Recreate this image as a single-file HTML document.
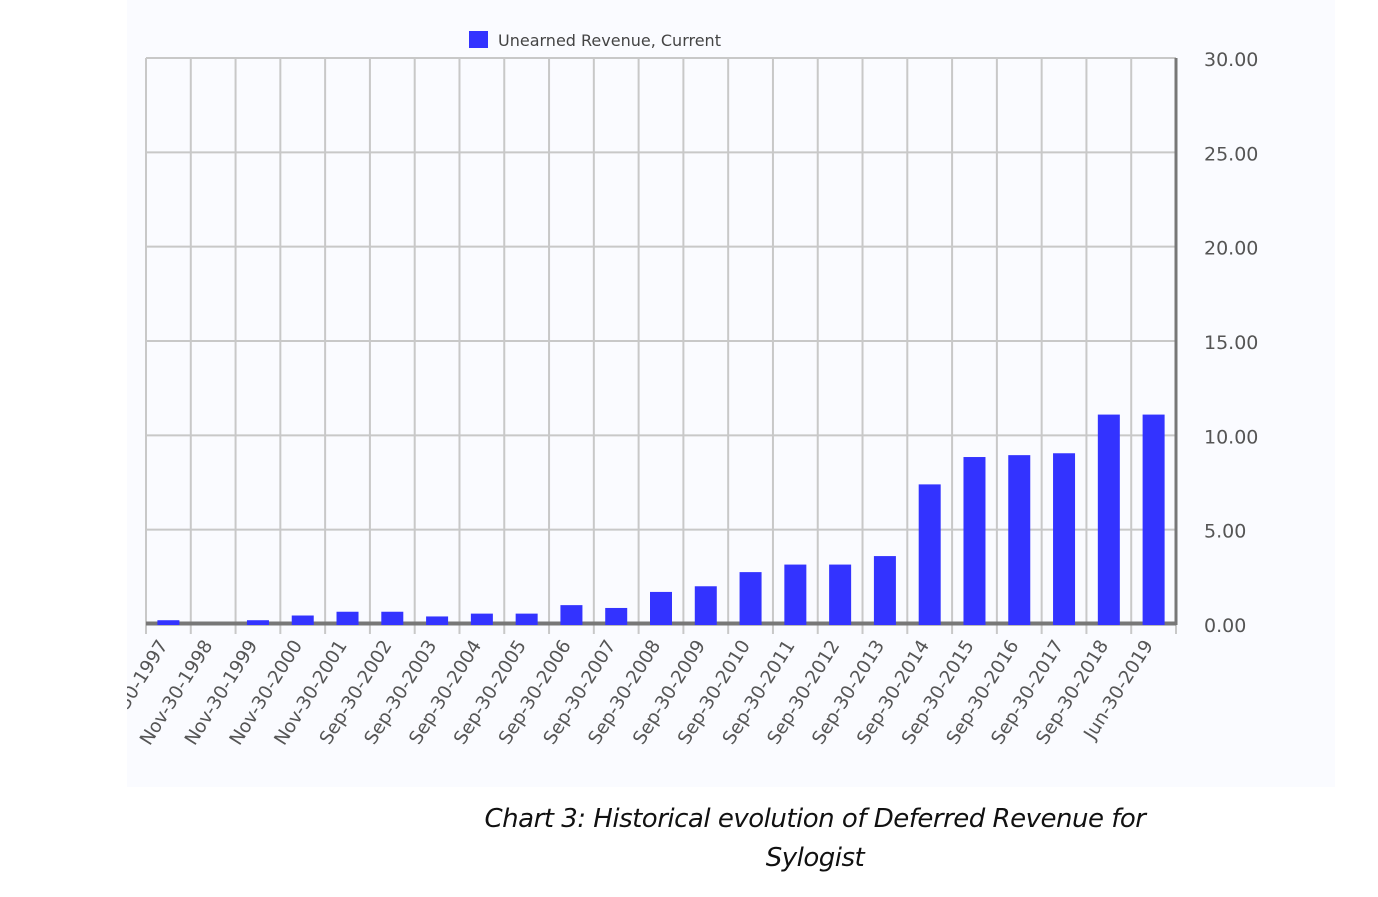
<!DOCTYPE html>
<html><head><meta charset="utf-8">
<style>
body{margin:0;background:#fff;width:1378px;height:897px;overflow:hidden;font-family:"DejaVu Sans","Liberation Sans",sans-serif}
#panel{position:absolute;left:127px;top:0;width:1208px;height:787px;background:#fafbff}
#cap{position:absolute;left:440px;top:800px;width:750px;text-align:center;font-family:"DejaVu Sans","Liberation Sans",sans-serif;font-style:italic;font-size:26px;line-height:39px;color:#111;letter-spacing:-0.5px}
</style></head><body>
<div id="panel"></div>
<svg id="chart" width="1378" height="897" style="position:absolute;left:0;top:0">
<defs><clipPath id="pc"><rect x="127" y="0" width="1208" height="787"/></clipPath></defs>
<g id="g" clip-path="url(#pc)"></g>
</svg>
<div id="cap">Chart 3: Historical evolution of Deferred Revenue for Sylogist</div>
<script>
const categories=["Nov-30-1997","Nov-30-1998","Nov-30-1999","Nov-30-2000","Nov-30-2001","Sep-30-2002","Sep-30-2003","Sep-30-2004","Sep-30-2005","Sep-30-2006","Sep-30-2007","Sep-30-2008","Sep-30-2009","Sep-30-2010","Sep-30-2011","Sep-30-2012","Sep-30-2013","Sep-30-2014","Sep-30-2015","Sep-30-2016","Sep-30-2017","Sep-30-2018","Jun-30-2019"];
const values=[0.2,0.0,0.2,0.45,0.65,0.65,0.4,0.55,0.55,1.0,0.85,1.7,2.0,2.75,3.15,3.15,3.6,7.4,8.85,8.95,9.05,11.1,11.1];
const yTicks=[0,5,10,15,20,25,30];
const yTickLabels=["0.00","5.00","10.00","15.00","20.00","25.00","30.00"];
const NS="http://www.w3.org/2000/svg";
const svg=document.getElementById('g');
const L=146,R=1176,T=58,B=624,ymax=30;
const bw=(R-L)/categories.length;
const x=i=>L+i*bw;
const y=v=>B-(v/ymax)*(B-T);
function mk(t,a){const e=document.createElementNS(NS,t);for(const k in a)e.setAttribute(k,a[k]);svg.appendChild(e);return e;}
yTicks.forEach((t,i)=>{
 const g=mk('line',{x1:L,x2:R,y1:y(t),y2:y(t),stroke:'#c8c8c8','stroke-width':2});
 
 
 const tx=mk('text',{x:1204,y:y(t)+8,'font-size':19,fill:'#555'});
 tx.textContent=yTickLabels[i];
 
 
});
for(let i=0;i<=categories.length;i++){
 const g=mk('line',{x1:x(i),x2:x(i),y1:T,y2:B+10,stroke:'#c8c8c8','stroke-width':2});
 
 
}
const base=mk('line',{x1:L,x2:R,y1:B-0.5,y2:B-0.5,stroke:'#777','stroke-width':4});


const ra=mk('line',{x1:R,x2:R,y1:T,y2:B+1,stroke:'#777','stroke-width':3});


categories.forEach((c,i)=>{
 const cx=x(i)+bw/2;
 const v=values[i];
 if(v>0){
  const b=mk('rect',{x:cx-11,y:y(v),width:22,height:B+1-y(v),fill:'#3333ff'});
  
  
 }
 const t=mk('text',{x:cx,y:645,'font-size':18.5,fill:'#555','text-anchor':'end',transform:`rotate(-58 ${cx} 645)`});
 t.textContent=c;
 
 
});
const lr=mk('rect',{x:469,y:31,width:19,height:17,fill:'#3333ff'});


const lt=mk('text',{x:498,y:46,'font-size':16,fill:'#444'});
lt.textContent='Unearned Revenue, Current';


</script>
</body></html>
